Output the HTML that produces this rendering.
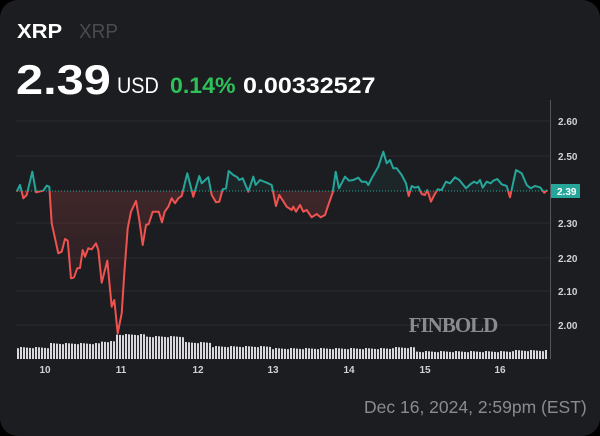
<!DOCTYPE html>
<html><head><meta charset="utf-8"><style>
html,body{margin:0;padding:0;background:#000;}
#c{position:relative;width:600px;height:436px;background:#1c1d21;border-radius:18px;overflow:hidden;font-family:"Liberation Sans",sans-serif;}
.t{position:absolute;white-space:nowrap;transform-origin:0 0;}
</style></head><body><div id="c">
<div class="t" style="left:17px;top:21px;font-size:20px;font-weight:bold;color:#fff;transform:scaleX(1.1)">XRP</div>
<div class="t" style="left:79px;top:21px;font-size:20px;color:#4a4b50;transform:scaleX(0.95)">XRP</div>
<div class="t" style="left:16px;top:56px;font-size:42px;font-weight:bold;color:#fff;transform:scaleX(1.16)">2.39</div>
<div class="t" style="left:117px;top:73px;font-size:22px;color:#fff;transform:scaleX(0.9)">USD</div>
<div class="t" style="left:170px;top:73px;font-size:22px;font-weight:bold;color:#2ec15a;transform:scaleX(1.05)">0.14%</div>
<div class="t" style="left:243px;top:73px;font-size:22px;font-weight:bold;color:#fff;transform:scaleX(1.14)">0.00332527</div>
<div class="t" style="left:364px;top:397px;font-size:17.5px;color:#8a8b90">Dec 16, 2024, 2:59pm (EST)</div>
<svg id="s" width="600" height="436" style="position:absolute;left:0;top:0"></svg>
</div>
<script>
var z2=[[50,155],[60,135],[70,175],[80,165],[97,95],[108,157],[130,152],[140,137],[148,140],[155,250],[175,340],[185,335],[195,297],[203,302],[213,415],[222,412],[232,385],[240,384],[248,330],[255,350],[265,325],[275,328],[288,310],[295,330],[305,428],[322,362],[335,500],[343,480],[353,580],[365,520],[373,400],[383,265],[393,215],[408,183],[418,240],[428,315],[438,255],[446,252],[458,215],[476,215],[486,247],[494,215],[505,200],[515,175],[525,190],[535,175],[545,168],[562,100],[580,170],[598,108],[605,130],[625,112],[635,165],[648,187],[658,185],[668,148],[678,145],[686,93],[700,105],[712,112],[718,120],[728,115],[745,155],[760,110],[767,135],[780,120],[800,128],[815,135],[828,198],[838,165],[860,200],[875,210],[880,200],[888,215]];
var z3=[[0,315],[10,335],[20,330],[35,352],[50,342],[62,352],[75,345],[85,315],[98,278],[107,215],[117,265],[135,230],[147,242],[160,240],[175,233],[185,245],[198,245],[205,255],[215,235],[235,200],[250,155],[260,190],[270,180],[280,205],[290,205],[305,225],[318,250],[326,288],[335,258],[345,263],[355,260],[365,282],[375,285],[382,270],[393,305],[403,285],[413,268],[425,270],[438,245],[450,250],[465,232],[478,240],[498,265],[512,252],[522,245],[532,250],[540,240],[548,263],[560,245],[572,250],[580,242],[592,237],[605,253],[620,258],[630,292],[648,210],[665,220],[680,255],[692,265],[705,258],[720,262],[733,278],[742,270]];
var pts=[];z2.forEach(function(p){pts.push([p[0]/3,140+p[1]/3]);});z3.forEach(function(p){pts.push([300+p[0]/3,100+p[1]/3]);});
var B=191;
var line=pts.map(function(p){return p[0].toFixed(1)+","+p[1].toFixed(1)}).join(" ");
var area=line+" "+pts[pts.length-1][0].toFixed(1)+","+B+" "+pts[0][0].toFixed(1)+","+B;
var h='<defs><clipPath id="up"><rect x="0" y="0" width="600" height="'+B+'"/></clipPath><clipPath id="dn"><rect x="0" y="'+B+'" width="600" height="300"/></clipPath>'+
'<linearGradient id="rg" x1="0" y1="0" x2="0" y2="1"><stop offset="0" stop-color="#ef5350" stop-opacity="0.22"/><stop offset="1" stop-color="#ef5350" stop-opacity="0.0"/></linearGradient></defs>';
var labs=[["2.60",121],["2.50",156],["2.30",223],["2.20",258],["2.10",291],["2.00",325]];
labs.forEach(function(l){h+='<line x1="16" x2="550" y1="'+l[1]+'" y2="'+l[1]+'" stroke="#2a2b30" stroke-width="1"/>';h+='<text x="558" y="'+(l[1]+4)+'" fill="#d0d1d4" font-size="10" font-weight="bold" font-family="Liberation Sans">'+l[0]+'</text>';});
h+='<line x1="550.5" x2="550.5" y1="100" y2="359" stroke="#55565b"/>';
for(var x=17;x<548;x+=3){var t;
 if(x<50)t=347;else if(x<100)t=343;else if(x<115)t=341;else if(x<145)t=334;else if(x<185)t=336;else if(x<210)t=342;else if(x<270)t=346;else if(x<390)t=348;else if(x<415)t=347;else if(x<510)t=351;else t=350;
 t+=((x*7)%5)*0.3;
 h+='<rect x="'+x+'" y="'+t.toFixed(1)+'" width="2" height="'+(359-t).toFixed(1)+'" fill="#d8d8dc"/>';}
h+='<polygon points="'+area+'" fill="url(#rg)" clip-path="url(#dn)"/>';
h+='<polygon points="'+area+'" fill="#26a69a" fill-opacity="0.06" clip-path="url(#up)"/>';
h+='<line x1="16" x2="550" y1="'+B+'" y2="'+B+'" stroke="#26a69a" stroke-dasharray="1,2" stroke-width="1"/>';
h+='<polyline points="'+line+'" fill="none" stroke="#26a69a" stroke-width="2" stroke-linejoin="round" clip-path="url(#up)"/>';
h+='<polyline points="'+line+'" fill="none" stroke="#ef5350" stroke-width="2" stroke-linejoin="round" clip-path="url(#dn)"/>';
h+='<rect x="551" y="184" width="29" height="14" fill="#26a69a"/><text x="557" y="195" fill="#fff" font-size="10" font-weight="bold" font-family="Liberation Sans">2.39</text>';
[["10",45],["11",121],["12",198],["13",273],["14",349],["15",425],["16",500]].forEach(function(d){h+='<text x="'+d[1]+'" y="373" fill="#d0d1d4" font-size="10" font-weight="bold" text-anchor="middle" font-family="Liberation Sans">'+d[0]+'</text>';});
h+='<text x="453" y="332" fill="#8a8b8e" font-size="21" font-weight="bold" text-anchor="middle" font-family="Liberation Serif" letter-spacing="-1">FINBOLD</text>';
document.getElementById("s").innerHTML=h;
</script></body></html>
